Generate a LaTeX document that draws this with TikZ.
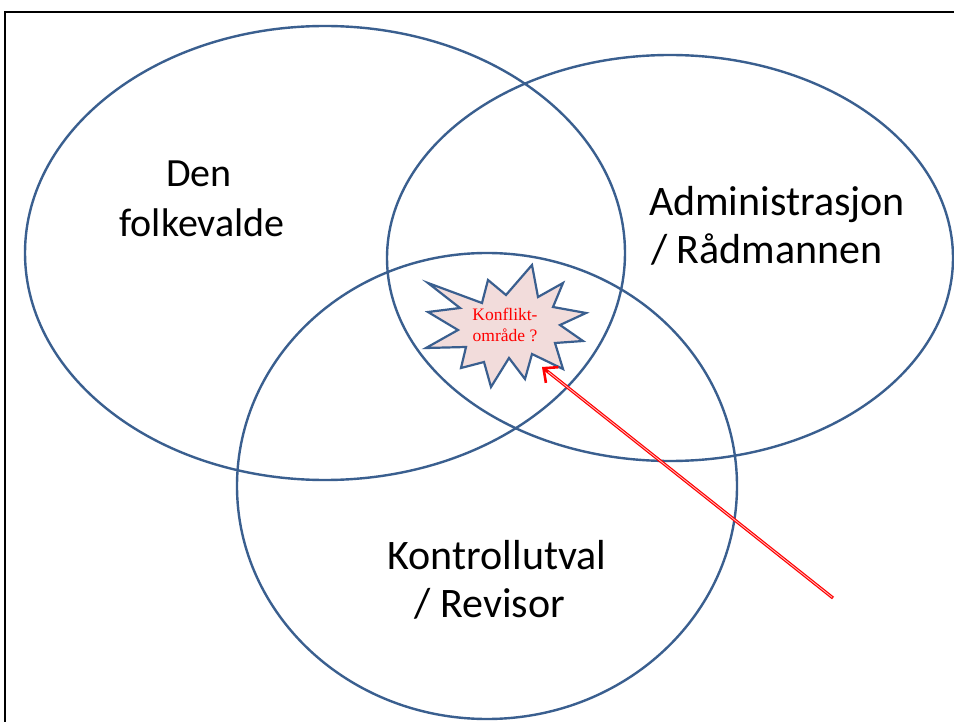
\documentclass[tikz,border=0pt]{standalone}
\usepackage{fontspec}
\setmainfont{Carlito}
\newfontfamily\starfont{Liberation Serif}
\usetikzlibrary{arrows.meta}
\definecolor{ringblue}{HTML}{3A5F8F}
\definecolor{starfill}{HTML}{F2DCDB}
\tikzset{
  ring/.style={draw=ringblue, line width=2.4pt},
  bigtext/.style={font=\fontsize{40}{50}\selectfont, align=center, inner sep=0pt},
  bigtextb/.style={font=\fontsize{42}{48}\selectfont, align=center, inner sep=0pt},
  startext/.style={font=\starfont\fontsize{17.5}{21}\selectfont, text=red, align=center, inner sep=0pt},
}
\begin{document}
\begin{tikzpicture}[x=1pt,y=-1pt]
\useasboundingbox (0,0) rectangle (954,722);
\fill[white] (0,0) rectangle (954,722);
% frame
\draw[line width=2pt] (5,722) -- (5,12) -- (954,12);
% ellipses
\draw[ring] (325,253) ellipse [x radius=300, y radius=227];
\draw[ring] (670,258) ellipse [x radius=283, y radius=203];
\draw[ring] (487,486) ellipse [x radius=250, y radius=233];
% star
\draw[draw=ringblue, fill=starfill, line width=2.2pt, line join=miter]
 (428,283) -- (482,303) -- (488,280) -- (506,295) -- (532,265) -- (538,297)
 -- (563,283) -- (553,307) -- (586,313) -- (560,325) -- (583,341) -- (555,343)
 -- (563,369) -- (532,354) -- (525,379) -- (509,358) -- (491,387) -- (484,362)
 -- (461,368) -- (466,347) -- (426,348) -- (458,330) -- (428,312) -- (460,308) -- cycle;
\node[startext] (conf) at (505,325) {Konflikt-\\område ?};
% labels
\node[bigtext] (folk) at (202,199) {Den\hspace*{6pt}\\folkevalde};
\node[bigtextb] (adm) at (777,226) {Administrasjon\\/ Rådmannen\hspace*{20pt}};
\node[bigtextb] (kon) at (497,580) {Kontrollutval\\/ Revisor\hspace*{14pt}};
% arrow
\coordinate (tail) at (833,598);
\coordinate (tip) at (542,367);
\draw[red, line width=3.2pt, -{Straight Barb[length=11pt,width=20pt,line width=2.6pt]}] (tail) -- (tip);
\draw[red!25, line width=0.8pt, shorten >=8pt, shorten <=1pt] (tail) -- (tip);
\end{tikzpicture}
\end{document}
